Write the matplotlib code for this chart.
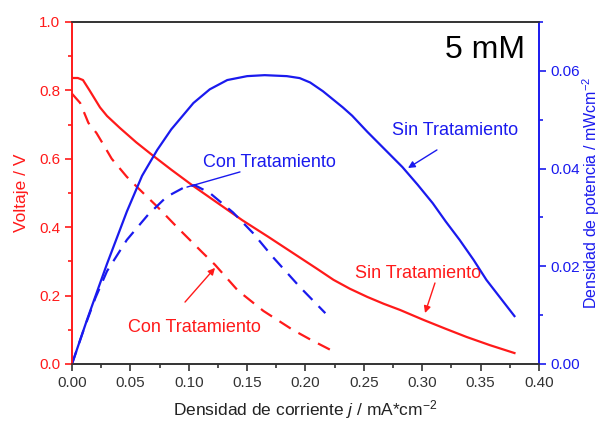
import numpy as np
import matplotlib.pyplot as plt
from matplotlib.ticker import MultipleLocator

plt.rcParams['font.family'] = ['Liberation Sans', 'DejaVu Sans']
plt.rcParams['mathtext.fontset'] = 'custom'
plt.rcParams['mathtext.rm'] = 'Liberation Sans'
plt.rcParams['mathtext.it'] = 'Liberation Sans:italic'

# voltage, untreated (solid red)
v_sin_x = [0.0, 0.005, 0.0094, 0.015, 0.024, 0.03, 0.041, 0.055, 0.069, 0.085,
           0.104, 0.125, 0.146, 0.168, 0.189, 0.21, 0.224, 0.238, 0.253, 0.267,
           0.281, 0.301, 0.32, 0.338, 0.358, 0.379]
v_sin_y = [0.836, 0.836, 0.83, 0.80, 0.75, 0.725, 0.69, 0.648, 0.61, 0.568,
           0.52, 0.47, 0.42, 0.372, 0.325, 0.278, 0.246, 0.22, 0.196, 0.176,
           0.158, 0.129, 0.103, 0.079, 0.055, 0.032]

# voltage, treated (dashed red)
v_con_x = [0.0, 0.007, 0.014, 0.021, 0.028, 0.034, 0.047, 0.06, 0.073, 0.09,
           0.112, 0.1225, 0.142, 0.164, 0.189, 0.205, 0.225]
v_con_y = [0.79, 0.763, 0.705, 0.675, 0.635, 0.6, 0.547, 0.503, 0.46, 0.40,
           0.325, 0.29, 0.215, 0.155, 0.1, 0.07, 0.035]

# power density, untreated (solid blue)
p_sin_x = [0.0, 0.0128, 0.024, 0.030, 0.047, 0.06, 0.073, 0.085, 0.104, 0.118,
           0.133, 0.15, 0.165, 0.184, 0.195, 0.204, 0.215, 0.232, 0.24, 0.253,
           0.268, 0.283, 0.296, 0.309, 0.32, 0.332, 0.344, 0.355, 0.367, 0.379]
p_sin_y = [0.0, 0.009, 0.0165, 0.0205, 0.0312, 0.0385, 0.0438, 0.048, 0.0534, 0.0562,
           0.0581, 0.0589, 0.0591, 0.0589, 0.0585, 0.0576, 0.0558, 0.0525, 0.0508, 0.0475,
           0.0439, 0.0403, 0.0367, 0.0329, 0.0292, 0.0254, 0.0213, 0.0172, 0.0135, 0.0098]

# power density, treated (dashed blue)
p_con_x = [0.0, 0.01, 0.02, 0.03, 0.047, 0.065, 0.081, 0.095, 0.105, 0.118,
           0.138, 0.155, 0.172, 0.195, 0.217]
p_con_y = [0.0, 0.007, 0.0135, 0.019, 0.0254, 0.0305, 0.0342, 0.036, 0.0366, 0.035,
           0.031, 0.0268, 0.0219, 0.0158, 0.0104]

red = '#ff1a1a'
blue = '#1a1aee'
dark = '#333333'

fig = plt.figure(figsize=(6.01, 4.21), dpi=100)
ax = fig.add_axes([0.1198, 0.1354, 0.777, 0.8126])
ax2 = ax.twinx()

ax.plot(v_sin_x, v_sin_y, color=red, lw=1.6)
ax.plot(v_con_x, v_con_y, color=red, lw=1.6, ls=(0, (6, 4)))
ax2.plot(p_sin_x, p_sin_y, color=blue, lw=1.6)
ax2.plot(p_con_x, p_con_y, color=blue, lw=1.6, ls=(0, (6, 4)))

ax.set_xlim(0, 0.40)
ax.set_ylim(0, 1.0)
ax2.set_ylim(0, 0.07)

ax.xaxis.set_major_locator(MultipleLocator(0.05))
ax.xaxis.set_minor_locator(MultipleLocator(0.025))
ax.yaxis.set_major_locator(MultipleLocator(0.2))
ax.yaxis.set_minor_locator(MultipleLocator(0.1))
ax2.yaxis.set_major_locator(MultipleLocator(0.02))
ax2.yaxis.set_minor_locator(MultipleLocator(0.01))
ax.xaxis.set_major_formatter(plt.FuncFormatter(lambda v, p: f'{v:.2f}'))
ax.yaxis.set_major_formatter(plt.FuncFormatter(lambda v, p: f'{v:.1f}'))
ax2.yaxis.set_major_formatter(plt.FuncFormatter(lambda v, p: f'{v:.2f}'))

ax.tick_params(axis='x', which='major', length=5, width=1.2, labelsize=11, colors=dark)
ax.tick_params(axis='x', which='minor', length=3, width=1.2, color=dark)
ax.tick_params(axis='y', which='major', length=5, width=1.2, labelsize=11, colors=red)
ax.tick_params(axis='y', which='minor', length=3, width=1.2, color=red)
ax2.tick_params(axis='y', which='major', length=5, width=1.2, labelsize=11, colors=blue)
ax2.tick_params(axis='y', which='minor', length=3, width=1.2, color=blue)

for a in (ax, ax2):
    a.spines['left'].set_color(red)
    a.spines['right'].set_color(blue)
    a.spines['top'].set_color(dark)
    a.spines['bottom'].set_color(dark)
    for s in a.spines.values():
        s.set_linewidth(1.2)

ax.set_xlabel('Densidad de corriente $j$ / mA*cm$^{-2}$', fontsize=12.5, color='#222222', labelpad=6)
ax.set_ylabel('Voltaje / V', fontsize=12.5, color=red, labelpad=7)
ax2.set_ylabel('Densidad de potencia / mWcm$^{-2}$', fontsize=11.5, color=blue, labelpad=0)

ax.text(0.97, 0.918, '5 mM', transform=ax.transAxes, ha='right', va='center', fontsize=23, color='black')

# annotations
ax2.text(0.112, 0.0413, 'Con Tratamiento', color=blue, fontsize=13, ha='left', va='center')
ax2.annotate('', xy=(0.0985, 0.0362), xytext=(0.1439, 0.0393),
             arrowprops=dict(arrowstyle='-', color=blue, lw=1.0, shrinkA=0, shrinkB=0))
ax2.text(0.274, 0.0478, 'Sin Tratamiento', color=blue, fontsize=13, ha='left', va='center')
ax2.annotate('', xy=(0.2878, 0.0401), xytext=(0.3126, 0.0438),
             arrowprops=dict(arrowstyle='-|>', color=blue, lw=1.0, mutation_scale=10,
                             shrinkA=0, shrinkB=0))
ax.text(0.2425, 0.265, 'Sin Tratamiento', color=red, fontsize=13, ha='left', va='center')
ax.annotate('', xy=(0.3024, 0.149), xytext=(0.3109, 0.2368),
            arrowprops=dict(arrowstyle='-|>', color=red, lw=1.0, mutation_scale=10,
                            shrinkA=0, shrinkB=0))
ax.text(0.048, 0.108, 'Con Tratamiento', color=red, fontsize=13, ha='left', va='center')
ax.annotate('', xy=(0.1225, 0.281), xytext=(0.0968, 0.181),
            arrowprops=dict(arrowstyle='-|>', color=red, lw=1.0, mutation_scale=10,
                            shrinkA=0, shrinkB=0))

fig.savefig('out.png', dpi=100)
